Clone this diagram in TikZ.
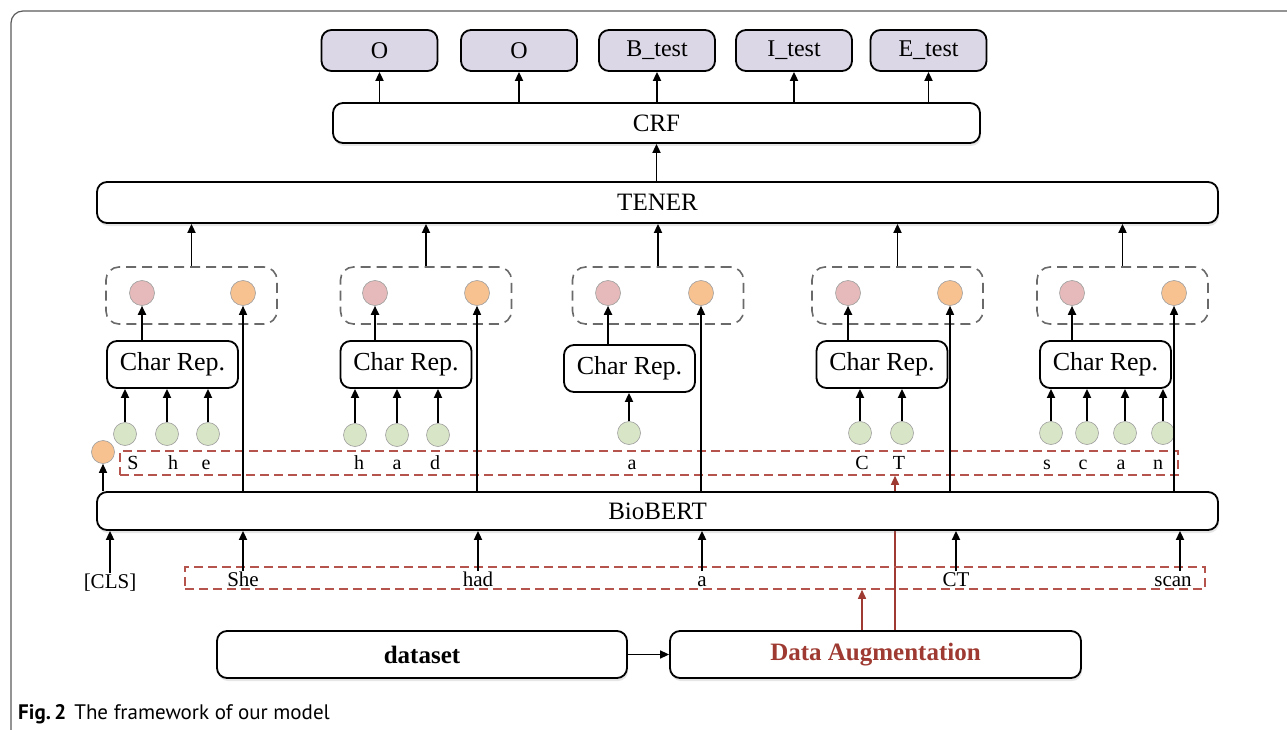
\documentclass[tikz,border=0pt]{standalone}
\usepackage{fontspec}
\setmainfont{Liberation Serif}
\newfontfamily\capfont{PT Sans}
\usetikzlibrary{arrows.meta,shadows,backgrounds}
\definecolor{lav}{HTML}{DCD7E6}
\definecolor{pinkc}{HTML}{E6BABA}
\definecolor{orc}{HTML}{F8C190}
\definecolor{grc}{HTML}{D8E5C6}
\definecolor{dred}{HTML}{9E3A31}
\definecolor{rdash}{HTML}{B5544C}
\definecolor{gdash}{HTML}{6A6A6A}
\definecolor{framec}{HTML}{5A5A5A}
\begin{document}
\begin{tikzpicture}[x=1pt,y=-1pt,
  box/.style={draw=black, line width=1.8pt, rounded corners=10pt, fill=white, inner sep=0pt},
  shbox/.style={box, drop shadow={shadow xshift=1pt, shadow yshift=-3pt, opacity=0.2}},
  outbox/.style={box, fill=lav, minimum width=116pt, minimum height=41pt, font=\fontsize{24}{28}\selectfont},
  bigbox/.style={shbox, font=\fontsize{25}{30}\selectfont},
  crbox/.style={box, minimum width=131pt, minimum height=47pt, font=\fontsize{26}{30}\selectfont},
  circ/.style={circle, draw=gray!75, line width=0.6pt, inner sep=0pt, minimum size=25pt},
  pk/.style={circ, fill=pinkc},
  oc/.style={circ, fill=orc},
  gc/.style={circ, fill=grc, minimum size=23pt},
  grp/.style={draw=gdash, line width=1.6pt, dash pattern=on 10pt off 6pt, rounded corners=13pt, minimum width=171pt, minimum height=57pt, inner sep=0pt},
  rbox/.style={draw=rdash, line width=1.5pt, dash pattern=on 9pt off 5pt, inner sep=0pt},
  lett/.style={anchor=base, inner sep=0pt, text height=14pt, text depth=0pt, font=\fontsize{20}{24}\selectfont},
  word/.style={anchor=base, inner sep=0pt, text height=15pt, text depth=0pt, font=\fontsize{21}{25}\selectfont},
  arr/.style={-{Triangle[length=9pt,width=8pt]}, line width=1.8pt},
  thinarr/.style={-{Triangle[length=9pt,width=8pt]}, line width=1.4pt},
  redarr/.style={-{Triangle[length=9pt,width=8pt]}, line width=1.4pt, draw=dred, color=dred}
]
\useasboundingbox (0,0) rectangle (1287,730);
\draw[framec, line width=1.2pt, rounded corners=12pt] (11,730) -- (11,11) -- (1287,11);

% outputs
\node[outbox] (o1) at (379.5,50.5) {O};
\node[outbox] (o2) at (519,50.5) {O};
\node[outbox] (o3) at (657,50.5) {B\_test};
\node[outbox] (o4) at (794,50.5) {I\_test};
\node[outbox] (o5) at (928.5,50.5) {E\_test};

\node[bigbox, minimum width=647pt, minimum height=40pt] (crf) at (656.5,123) {CRF};
\node[bigbox, minimum width=1121pt, minimum height=41pt] (tener) at (657.5,202.5) {TENER};

\foreach \i in {1,...,5} \draw[arr] (crf.north -| o\i) -- (o\i.south);
\draw[arr] (tener.north -| crf.south) -- (crf.south);

% groups
\node[grp] (g1) at (191.5,295.5) {};
\node[grp] (g2) at (426,295.5) {};
\node[grp] (g3) at (658,295.5) {};
\node[grp] (g4) at (897.5,295.5) {};
\node[grp] (g5) at (1122.5,295.5) {};
\foreach \i in {1,...,5} \draw[arr] (g\i.north) -- (tener.south -| g\i.north);

\node[pk] (p1) at (142,293) {};  \node[oc] (q1) at (243,293) {};
\node[pk] (p2) at (375,293) {};  \node[oc] (q2) at (477,293) {};
\node[pk] (p3) at (608,293) {};  \node[oc] (q3) at (701,293) {};
\node[pk] (p4) at (848,293) {};  \node[oc] (q4) at (950,293) {};
\node[pk] (p5) at (1072,293) {}; \node[oc] (q5) at (1174,293) {};

% char rep
\node[crbox] (c1) at (172.5,364.5) {Char Rep.};
\node[crbox] (c2) at (406,364.5) {Char Rep.};
\node[crbox] (c3) at (629.5,368.5) {Char Rep.};
\node[crbox] (c4) at (882,364.5) {Char Rep.};
\node[crbox] (c5) at (1105.5,364.5) {Char Rep.};
\foreach \i in {1,...,5} \draw[arr] (c\i.north -| p\i) -- (p\i.south);

% green circles
\node[gc] (a1) at (125,434) {}; \node[gc] (a2) at (167,434) {}; \node[gc] (a3) at (208,434) {};
\node[gc] (b1) at (355,435) {}; \node[gc] (b2) at (397,435) {}; \node[gc] (b3) at (438,435) {};
\node[gc] (d1) at (629,433) {};
\node[gc] (e1) at (860,433) {}; \node[gc] (e2) at (902,433) {};
\node[gc] (f1) at (1051,433) {}; \node[gc] (f2) at (1087,433) {}; \node[gc] (f3) at (1125,433) {}; \node[gc] (f4) at (1163,433) {};
\foreach \n in {a1,a2,a3} \draw[arr] (\n.north) -- (c1.south -| \n);
\foreach \n in {b1,b2,b3} \draw[arr] (\n.north) -- (c2.south -| \n);
\draw[arr] (d1.north) -- (c3.south -| d1);
\foreach \n in {e1,e2} \draw[arr] (\n.north) -- (c4.south -| \n);
\foreach \n in {f1,f2,f3,f4} \draw[arr] (\n.north) -- (c5.south -| \n);

% char-level dashed rect and letters
\node[rbox, minimum width=1058pt, minimum height=24pt] (crect) at (649,463) {};
\node[lett] (lS) at (133,469) {S};
\node[lett] (lh) at (173,469) {h};
\node[lett] (le) at (206,469) {e};
\node[lett] (lh2) at (359,469) {h};
\node[lett] (la2) at (397,469) {a};
\node[lett] (ld2) at (435,469) {d};
\node[lett] (la3) at (632,469) {a};
\node[lett] (lC) at (862,469) {C};
\node[lett] (lT) at (899,469) {T};
\node[lett] (ls5) at (1047,469) {s};
\node[lett] (lc5) at (1083,469) {c};
\node[lett] (la5) at (1121,469) {a};
\node[lett] (ln5) at (1158,469) {n};
\node[oc, minimum size=23pt] (q0) at (103,452) {};

% bottom boxes
\node[bigbox, font=\fontsize{25}{30}\selectfont\bfseries, minimum width=410pt, minimum height=47pt] (ds) at (422,654.5) {dataset};
\node[bigbox, font=\fontsize{25}{30}\selectfont\bfseries, text=dred, minimum width=411pt, minimum height=47pt] (da) at (875.5,654.5) {Data Augmentation};
\draw[arr, line width=1.5pt] (ds.east) -- (da.west);

% word-level dashed rect
\node[rbox, minimum width=1020pt, minimum height=22pt] (wrect) at (695,578) {};
\node[word] (cls) at (110,588) {[CLS]};
\node[word] (w1) at (243,586) {She};
\node[word] (w2) at (478,586) {had};
\node[word] (w3) at (702,586) {a};
\node[word] (w4) at (956,586) {CT};
\node[word] (w5) at (1173,586) {scan};

\coordinate (ra) at (862,600);
\coordinate (rb) at (895,480);
\begin{pgfonlayer}{background}
\draw[redarr] (da.north -| rb) -- (crect.south -| rb);
\end{pgfonlayer}
\draw[redarr] (da.north -| ra) -- (wrect.south -| ra);

% BioBERT
\node[bigbox, minimum width=1121pt, minimum height=38pt] (bio) at (657.5,511) {BioBERT};
\foreach \i in {0,...,5} \draw[thinarr] (bio.north -| q\i) -- (q\i.south);
\draw[arr] (cls.north) -- (bio.south -| cls);
\draw[arr] (w1.north) -- (bio.south -| w1);
\draw[arr] (w2.north) -- (bio.south -| w2);
\draw[arr] (w3.north) -- (bio.south -| w3);
\draw[arr] (w4.north) -- (bio.south -| w4);
\coordinate (w5x) at (1180,586);
\draw[arr] (w5.north -| w5x) -- (bio.south -| w5x);

% caption
\node[anchor=base west, inner sep=0pt, font=\capfont\fontsize{21}{25}\selectfont] (cap) at (18,719) {\textbf{Fig.\,2}\hspace{8pt}The framework of our model};
\end{tikzpicture}
\end{document}
